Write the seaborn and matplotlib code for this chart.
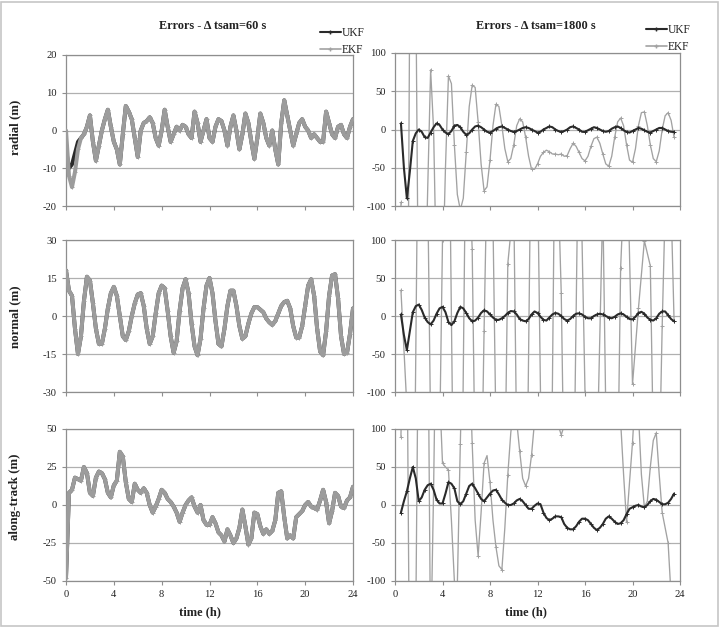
import numpy as np
import pandas as pd
import matplotlib
matplotlib.use("Agg")
import matplotlib.pyplot as plt
from matplotlib.lines import Line2D
import seaborn as sns

# ---------------- data ----------------
# 60 s sampling panels: values read every 0.25 h from 0 to 24 h
t60 = np.arange(0, 24.001, 0.25)

ekf_radial_60 = [0, -12, -15, -11, -5, -2, -1, 1, 4, -3, -8, -4, 0, 3, 5.5, 1,
                 -3, -5, -9, -1, 6.5, 5, 3, -2, -7, 0, 2, 2.5, 3.5, 2, -2, -4,
                 0, 5.5, 1, -3, -1, 1, 0, 1.5, 1, -1, -2, 5, 2, -3, 0, 3,
                 -2, -3, 1, 3, 2.5, 0, -4, 1, 4, 0, -5, -1, 4.5, 2, -3, -7.5,
                 -2, 4.5, 2, -2, -4, 0, -5, -9, 2, 8, 4, 0, -4, -1, 2, 3,
                 1, 0, -2, -1, -2, -3, -3, 5, 2, -1, -2, 1, 1.5, -1, -2, 1,
                 3]
ukf_radial_60_start = [-5, -10, -9, -6, -3, -2, -1]
ukf_radial_60 = ukf_radial_60_start + ekf_radial_60[7:]

ekf_normal_60 = [18, 10, 8, -5, -15, -8, 6, 15.5, 14, 5, -5, -11, -11, -5, 3, 9,
                 11.5, 8, 0, -8, -9.5, -6, 0, 5, 8.5, 9, 4, -5, -11, -8, 1, 9,
                 12, 11, 2, -8, -14.5, -10, 2, 11, 14.5, 9, -3, -12, -15.5, -9, 3, 12,
                 15, 9, -2, -11, -12, -5, 4, 10, 10, 4, -4, -9, -8, -3, 1, 3.5,
                 3.5, 2.5, 1.5, -1, -2.5, -3.5, -2, 1, 4, 5.5, 6, 3, -4, -8.5, -8.5, -4,
                 4, 12, 14.5, 8, -5, -14, -15.5, -6, 8, 16, 16.5, 7, -8, -15, -14.5, -7,
                 3]
ukf_normal_60 = list(ekf_normal_60)

ekf_along_60 = [-48, 8, 10, 18, 17, 16, 25, 21, 8, 6, 18, 22, 21, 17, 8, 5,
                13, 16, 35, 32, 15, 4, 2, 14, 10, 8, 11, 8, 0, -5, -1, 4,
                10, 8, 4, 2, -1, -5, -11, -5, 0, 3, 5, -1, -5, 0, -10, -13,
                -13, -8, -12, -18, -20, -24, -16, -20, -25, -22, -15, -3, -14, -26, -22, -5,
                -6, -14, -19, -16, -19, -17, -10, 8, 9, -8, -22, -20, -22, -8, -6, -4,
                0, 2, -1, -2, -3, 3, 10, 2, -12, -4, 8, 6, -1, -2, 3, 5,
                12]
ukf_along_60 = list(ekf_along_60)

# 1800 s sampling panels: values read every 0.25 h from 0.5 to 23.5 h
t1800 = np.arange(0.5, 23.501, 0.25)
# EKF normal component: the samples themselves (every 0.5 h)
t1800_half = np.arange(0.5, 23.501, 0.5)

ukf_radial_1800 = [8, -50,
                   -90, -55, -15, -5, 0, -3, -10, -11, -4, 3, 8, 6, 0, -4, -6, -2,
                   5, 6, 3, -3, -7, -5, 0, 4, 5, 3, 0, -3, -4, -2, 1, 3,
                   4, 2, 0, -2, -3, -2, 0, 2, 3, 2, 0, -2, -4, -3, 0, 2,
                   4, 3, 0, -2, -3, -2, 0, 3, 4, 2, 0, -3, -3, -1, 1, 3,
                   2, 0, -2, -3, -2, 1, 3, 4, 2, -1, -3, -4, -2, 0, 2, 1,
                   -1, -3, -4, -2, 0, 2, 2, 0,
                   -2, -3, -3]
ekf_radial_1800 = [-95, -400,
                   -500, 200, 500, 200, -300, -400, -250, -80, 78, 0, -200, -300,
                   -200, -50, 70, 60, -20, -85, -105, -90, -30, 30, 58, 55,
                   10, -45, -80, -75, -40, 5, 33, 30, 5, -25, -42, -38,
                   -20, 5, 14, 10, -10, -35, -52, -52, -45, -35, -30, -27,
                   -29, -32, -32, -33, -32, -35, -34, -25, -18, -22, -30, -38,
                   -41, -35, -22, -12, -10, -18, -32, -45, -48, -35, -10, 10,
                   15, 5, -20, -40, -43, -25, 5, 22, 23, 5, -20, -38,
                   -42, -28, 0, 18,
                   22, 12, -10]

ukf_normal_1800 = [2, -25,
                   -45, -20, 5, 13, 15, 8, -2, -8, -11, -6, 3, 10,
                   12, 5, -8, -12, -7, 4, 12, 10, 4, -3, -7, -6,
                   -2, 4, 7.5, 6, 2, -2, -5, -5, -3, 0, 4, 6.5,
                   6, 2, -4, -6, -7, -4, 2, 6, 4, -1, -5, -6,
                   -2, 2, 4, 3, 0, -4, -6, -4, 0, 3, 3.5, 2,
                   -1, -3, -3, 0, 2, 3, 2, 0, -2, -3, -1, 2,
                   3.5, 2, -1, -4, -4.5, -1, 4, 5.5, 3, -2, -5, -6,
                   -3, 3, 6, 6,
                   1, -4, -7]
ekf_normal_1800 = [34, -120, -450, 350, 500, -150, -450, 100, 350, -350, -450,
                   300, 88, -500, -20, 400, -150, -500, 69, 150, -500, -400, 300,
                   200, -400, -500, 300, 30, -500, -300, 300, -100, -500, -200, 150,
                   -400, -500, 63, 250, -90, 10, 99, 66, -400, -13, 300, -6]

ukf_along_1800 = [-10, 5,
                  18, 35, 50, 35, 5, 10, 20, 26, 28, 20, 7, 2,
                  2, 15, 30, 28, 22, 5, 1, 5, 15, 25, 28, 22,
                  15, 8, 5, 10, 15, 19, 20, 14, 7, 3, 0, 0,
                  2, 6, 8, 5, 0, -5, -5, -1, 2, 1, -10, -17,
                  -20, -18, -15, -15, -16, -25, -30, -32, -32, -28, -22, -18,
                  -18, -20, -25, -30, -33, -30, -25, -18, -15, -18, -22, -25,
                  -24, -20, -12, -5, -3, -1, 0, -2, -3, 0, 5, 8,
                  7, 4, 1, 1,
                  3, 8, 15]
ekf_along_1800 = [90, 300,
                  250, -300, -500, -150, 300, 500, 500, 300, -200, 20, 300, 150,
                  55, 50, 46, -20, -100, -105, 80, 250, 300, 200, 81, -20,
                  -67, -10, 55, 65, 30, -20, -55, -80, -85, -30, 40, 95,
                  130, 110, 71, 35, 25, 35, 66, 110, 150, 180, 200, 180,
                  150, 130, 115, 105, 92, 105, 150, 200, 250, 300, 300, 300,
                  300, 300, 300, 300, 300, 300, 300, 300, 300, 300, 250, 180,
                  110, 40, -23, 30, 82, 150, 120, 40, -3, 5, 50, 85,
                  95, 40, -10, -30,
                  -50, -120, -300]

for arr in (ekf_radial_60, ukf_radial_60, ekf_normal_60, ekf_along_60):
    assert len(arr) == len(t60), len(arr)
for arr in (ukf_radial_1800, ekf_radial_1800, ukf_normal_1800,
            ukf_along_1800, ekf_along_1800):
    assert len(arr) == len(t1800), len(arr)
assert len(ekf_normal_1800) == len(t1800_half), len(ekf_normal_1800)

titles = ["Errors - \u0394 tsam=60 s", "Errors - \u0394 tsam=1800 s"]
row_labels = ["radial (m)", "normal (m)", "along-track (m)"]
left_ylims = [(-20, 20), (-30, 30), (-50, 50)]
left_yticks = [[-20, -10, 0, 10, 20], [-30, -15, 0, 15, 30], [-50, -25, 0, 25, 50]]
right_yticks = [-100, -50, 0, 50, 100]
xticks = [0, 4, 8, 12, 16, 20, 24]
series_names = ["UKF", "EKF"]

# ---------------- styling ----------------
sns.set_theme(style="white")
plt.rcParams['font.family'] = ['Liberation Serif', 'DejaVu Serif']
plt.rcParams['axes.unicode_minus'] = False

UKF_C = "#2a2a2a"
EKF_C = "#a2a2a2"
FRAME_C = "#8e8e8e"
GRID_C = "#b0b0b0"
TXT_C = "#222222"
W, H = 722, 627

fig = plt.figure(figsize=(W / 100, H / 100), dpi=100)


def ax_at(x0, y0, x1, y1):
    return fig.add_axes([x0 / W, 1 - y1 / H, (x1 - x0) / W, (y1 - y0) / H])


rows_px = [(55, 206), (240, 392), (429, 581)]
left_x = (66, 353)
right_x = (395, 680)


def style_axis(ax, ylim, yticks, show_xlabels):
    ax.set_xlim(0, 24)
    ax.set_ylim(*ylim)
    ax.set_xticks(xticks)
    ax.set_yticks(yticks)
    ax.set_yticklabels([str(v) for v in yticks])
    ax.yaxis.grid(True, color=GRID_C, lw=0.9)
    ax.xaxis.grid(False)
    for s in ax.spines.values():
        s.set_color(FRAME_C)
        s.set_linewidth(0.9)
        s.set_visible(True)
    ax.tick_params(axis='both', which='both', direction='out', length=3.2,
                   width=0.8, color=FRAME_C, labelsize=7.6, labelcolor=TXT_C,
                   pad=3.5, left=True, bottom=True)
    ax.tick_params(axis='x', labelbottom=show_xlabels, pad=3)
    ax.set_xlabel("")
    ax.set_ylabel("")


def draw(ax, t, y, color, lw, marker=None, ms=3, mevery=1, z=2):
    df = pd.DataFrame({"t": t, "v": y})
    sns.lineplot(data=df, x="t", y="v", ax=ax, color=color, linewidth=lw,
                 marker=marker, markersize=ms, markevery=mevery,
                 markeredgewidth=0.7, markeredgecolor=color,
                 estimator=None, sort=False, legend=False, zorder=z)


left_data = [(ukf_radial_60, ekf_radial_60), (ukf_normal_60, ekf_normal_60),
             (ukf_along_60, ekf_along_60)]
right_data = [(ukf_radial_1800, ekf_radial_1800, t1800),
              (ukf_normal_1800, ekf_normal_1800, t1800_half),
              (ukf_along_1800, ekf_along_1800, t1800)]

for i, (y0, y1) in enumerate(rows_px):
    axl = ax_at(left_x[0], y0, left_x[1], y1)
    u, e = left_data[i]
    draw(axl, t60, u, UKF_C, 2.8, z=2)
    draw(axl, t60, e, "#9c9c9c", 2.9, marker='+', ms=3.5, z=3)
    style_axis(axl, left_ylims[i], left_yticks[i], i == 2)

    axr = ax_at(right_x[0], y0 - (2 if i == 0 else 0), right_x[1], y1)
    u, e, te = right_data[i]
    draw(axr, te, e, EKF_C, 0.95, marker='+', ms=2.2,
         mevery=(2 if len(te) == len(t1800) else 1), z=2)
    draw(axr, t1800, u, UKF_C, 1.5, marker='+', ms=2.5, mevery=2, z=3)
    style_axis(axr, (-100, 100), right_yticks, i == 2)

# titles
fig.text(213 / W, 1 - 26 / H, titles[0], ha='center', va='center',
         fontsize=8.8, fontweight='bold', color=TXT_C)
fig.text(536 / W, 1 - 26 / H, titles[1], ha='center', va='center',
         fontsize=8.8, fontweight='bold', color=TXT_C)

# row labels
for lab, yc in zip(row_labels, (127, 317, 497)):
    fig.text(15.5 / W, 1 - yc / H, lab, rotation=90, ha='center',
             va='center', fontsize=9.3, fontweight='bold', color=TXT_C)

# x labels
fig.text(200 / W, 1 - 612 / H, "time (h)", ha='center', va='center',
         fontsize=9, fontweight='bold', color=TXT_C)
fig.text(526 / W, 1 - 612 / H, "time (h)", ha='center', va='center',
         fontsize=9, fontweight='bold', color=TXT_C)

# legends
handles = [Line2D([], [], color=UKF_C, lw=1.5, marker='+', ms=3),
           Line2D([], [], color=EKF_C, lw=1.2, marker='+', ms=3)]
for xa, ya in ((320, 27), (646, 24)):
    fig.legend(handles, series_names, loc='upper left',
               bbox_to_anchor=(xa / W, 1 - ya / H), frameon=False, fontsize=8.3,
               handlelength=1.8, handletextpad=0.1, borderpad=0,
               borderaxespad=0, labelspacing=0.45, numpoints=1,
               labelcolor=TXT_C)

# outer frame
fig.add_artist(plt.Rectangle((0.5 / W, 1.5 / H), 717 / W, 623.5 / H,
                             transform=fig.transFigure, fill=False,
                             edgecolor="#c6c6c6", lw=1.2))

fig.savefig("out.png", dpi=100, facecolor="white")
